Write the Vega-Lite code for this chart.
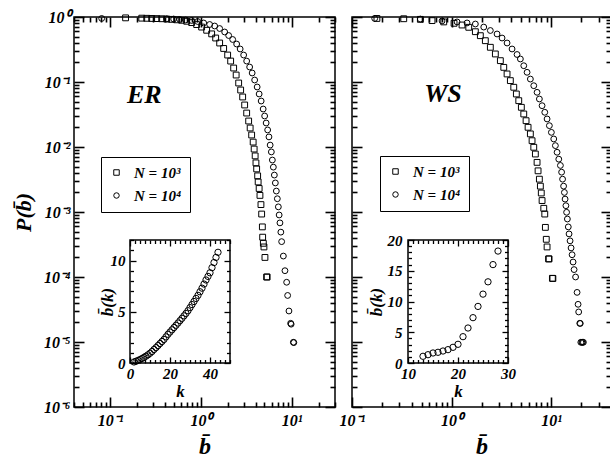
{
"$schema": "https://vega.github.io/schema/vega-lite/v6.json",
"padding": {"left": 11, "top": 8, "right": 0, "bottom": 0},
"background": "white",
"datasets": {
"er": [
{"b":0.148,"P":0.97,"N":"N = 10³"},{"b":0.223,"P":0.96,"N":"N = 10³"},{"b":0.253,"P":0.955,"N":"N = 10³"},{"b":0.287,"P":0.95,"N":"N = 10³"},{"b":0.326,"P":0.945,"N":"N = 10³"},{"b":0.37,"P":0.94,"N":"N = 10³"},{"b":0.42,"P":0.93,"N":"N = 10³"},{"b":0.476,"P":0.92,"N":"N = 10³"},{"b":0.541,"P":0.905,"N":"N = 10³"},{"b":0.614,"P":0.89,"N":"N = 10³"},{"b":0.697,"P":0.86,"N":"N = 10³"},{"b":0.791,"P":0.82,"N":"N = 10³"},{"b":0.898,"P":0.765,"N":"N = 10³"},{"b":1.019,"P":0.7,"N":"N = 10³"},{"b":1.157,"P":0.625,"N":"N = 10³"},{"b":1.314,"P":0.55,"N":"N = 10³"},{"b":1.454,"P":0.475,"N":"N = 10³"},{"b":1.609,"P":0.398,"N":"N = 10³"},{"b":1.781,"P":0.328,"N":"N = 10³"},{"b":1.971,"P":0.26,"N":"N = 10³"},{"b":2.127,"P":0.21,"N":"N = 10³"},{"b":2.295,"P":0.164,"N":"N = 10³"},{"b":2.445,"P":0.128,"N":"N = 10³"},{"b":2.606,"P":0.0965,"N":"N = 10³"},{"b":2.741,"P":0.0753,"N":"N = 10³"},{"b":2.884,"P":0.0588,"N":"N = 10³"},{"b":3.033,"P":0.0443,"N":"N = 10³"},{"b":3.192,"P":0.0333,"N":"N = 10³"},{"b":3.357,"P":0.0251,"N":"N = 10³"},{"b":3.487,"P":0.0196,"N":"N = 10³"},{"b":3.623,"P":0.0153,"N":"N = 10³"},{"b":3.764,"P":0.0119,"N":"N = 10³"},{"b":3.86,"P":0.0093,"N":"N = 10³"},{"b":3.959,"P":0.0073,"N":"N = 10³"},{"b":4.04,"P":0.0057,"N":"N = 10³"},{"b":4.113,"P":0.0046,"N":"N = 10³"},{"b":4.218,"P":0.0036,"N":"N = 10³"},{"b":4.272,"P":0.0029,"N":"N = 10³"},{"b":4.381,"P":0.0023,"N":"N = 10³"},{"b":4.472,"P":0.0018,"N":"N = 10³"},{"b":4.586,"P":0.0013,"N":"N = 10³"},{"b":4.668,"P":0.00093,"N":"N = 10³"},{"b":4.752,"P":0.00059,"N":"N = 10³"},{"b":4.788,"P":0.00041,"N":"N = 10³"},{"b":4.873,"P":0.00033,"N":"N = 10³"},{"b":4.948,"P":0.00029,"N":"N = 10³"},{"b":5.075,"P":0.0002,"N":"N = 10³"},{"b":5.298,"P":0.0001,"N":"N = 10³"},{"b":5.366,"P":0.0001,"N":"N = 10³"},
{"b":0.0807,"P":0.95,"N":"N = 10⁴"},{"b":0.42,"P":0.94,"N":"N = 10⁴"},{"b":0.501,"P":0.93,"N":"N = 10⁴"},{"b":0.584,"P":0.915,"N":"N = 10⁴"},{"b":0.679,"P":0.9,"N":"N = 10⁴"},{"b":0.791,"P":0.884,"N":"N = 10⁴"},{"b":0.921,"P":0.853,"N":"N = 10⁴"},{"b":1.073,"P":0.809,"N":"N = 10⁴"},{"b":1.249,"P":0.767,"N":"N = 10⁴"},{"b":1.418,"P":0.727,"N":"N = 10⁴"},{"b":1.609,"P":0.665,"N":"N = 10⁴"},{"b":1.827,"P":0.588,"N":"N = 10⁴"},{"b":2.022,"P":0.519,"N":"N = 10⁴"},{"b":2.238,"P":0.451,"N":"N = 10⁴"},{"b":2.476,"P":0.384,"N":"N = 10⁴"},{"b":2.706,"P":0.322,"N":"N = 10⁴"},{"b":2.957,"P":0.26,"N":"N = 10⁴"},{"b":3.192,"P":0.21,"N":"N = 10⁴"},{"b":3.443,"P":0.17,"N":"N = 10⁴"},{"b":3.669,"P":0.1376,"N":"N = 10⁴"},{"b":3.909,"P":0.1073,"N":"N = 10⁴"},{"b":4.165,"P":0.0838,"N":"N = 10⁴"},{"b":4.381,"P":0.0654,"N":"N = 10⁴"},{"b":4.61,"P":0.051,"N":"N = 10⁴"},{"b":4.85,"P":0.0384,"N":"N = 10⁴"},{"b":5.037,"P":0.03,"N":"N = 10⁴"},{"b":5.232,"P":0.0234,"N":"N = 10⁴"},{"b":5.436,"P":0.0183,"N":"N = 10⁴"},{"b":5.618,"P":0.0143,"N":"N = 10⁴"},{"b":5.792,"P":0.0107,"N":"N = 10⁴"},{"b":5.97,"P":0.0084,"N":"N = 10⁴"},{"b":6.124,"P":0.0063,"N":"N = 10⁴"},{"b":6.281,"P":0.0049,"N":"N = 10⁴"},{"b":6.442,"P":0.0037,"N":"N = 10⁴"},{"b":6.607,"P":0.0028,"N":"N = 10⁴"},{"b":6.776,"P":0.0021,"N":"N = 10⁴"},{"b":6.95,"P":0.0016,"N":"N = 10⁴"},{"b":7.13,"P":0.0012,"N":"N = 10⁴"},{"b":7.276,"P":0.0009,"N":"N = 10⁴"},{"b":7.425,"P":0.00068,"N":"N = 10⁴"},{"b":7.596,"P":0.00049,"N":"N = 10⁴"},{"b":7.752,"P":0.00035,"N":"N = 10⁴"},{"b":8.095,"P":0.00021,"N":"N = 10⁴"},{"b":8.43,"P":0.000125,"N":"N = 10⁴"},{"b":8.8,"P":0.000083,"N":"N = 10⁴"},{"b":9.026,"P":0.000052,"N":"N = 10⁴"},{"b":9.329,"P":0.00003,"N":"N = 10⁴"},{"b":9.739,"P":0.0000194,"N":"N = 10⁴"},{"b":9.863,"P":0.0000188,"N":"N = 10⁴"},{"b":10.43,"P":0.0000099,"N":"N = 10⁴"},{"b":10.56,"P":0.0000098,"N":"N = 10⁴"}
],
"ws": [
{"b":0.178,"P":0.95,"N":"N = 10³"},{"b":0.331,"P":0.94,"N":"N = 10³"},{"b":0.486,"P":0.92,"N":"N = 10³"},{"b":0.637,"P":0.88,"N":"N = 10³"},{"b":0.835,"P":0.84,"N":"N = 10³"},{"b":1.06,"P":0.8,"N":"N = 10³"},{"b":1.275,"P":0.753,"N":"N = 10³"},{"b":1.489,"P":0.694,"N":"N = 10³"},{"b":1.735,"P":0.594,"N":"N = 10³"},{"b":1.947,"P":0.516,"N":"N = 10³"},{"b":2.186,"P":0.432,"N":"N = 10³"},{"b":2.454,"P":0.342,"N":"N = 10³"},{"b":2.756,"P":0.27,"N":"N = 10³"},{"b":3.094,"P":0.213,"N":"N = 10³"},{"b":3.347,"P":0.168,"N":"N = 10³"},{"b":3.613,"P":0.133,"N":"N = 10³"},{"b":3.899,"P":0.105,"N":"N = 10³"},{"b":4.218,"P":0.083,"N":"N = 10³"},{"b":4.48,"P":0.0654,"N":"N = 10³"},{"b":4.736,"P":0.0516,"N":"N = 10³"},{"b":5.029,"P":0.0408,"N":"N = 10³"},{"b":5.317,"P":0.0322,"N":"N = 10³"},{"b":5.608,"P":0.0254,"N":"N = 10³"},{"b":5.874,"P":0.0201,"N":"N = 10³"},{"b":6.194,"P":0.0159,"N":"N = 10³"},{"b":6.442,"P":0.0125,"N":"N = 10³"},{"b":6.701,"P":0.0099,"N":"N = 10³"},{"b":6.955,"P":0.0078,"N":"N = 10³"},{"b":7.233,"P":0.0058,"N":"N = 10³"},{"b":7.402,"P":0.0043,"N":"N = 10³"},{"b":7.629,"P":0.0032,"N":"N = 10³"},{"b":7.808,"P":0.0025,"N":"N = 10³"},{"b":7.973,"P":0.00196,"N":"N = 10³"},{"b":8.121,"P":0.0015,"N":"N = 10³"},{"b":8.445,"P":0.00114,"N":"N = 10³"},{"b":8.644,"P":0.00093,"N":"N = 10³"},{"b":8.764,"P":0.00058,"N":"N = 10³"},{"b":8.95,"P":0.00038,"N":"N = 10³"},{"b":9.118,"P":0.00029,"N":"N = 10³"},{"b":9.438,"P":0.00019,"N":"N = 10³"},{"b":9.548,"P":0.00019,"N":"N = 10³"},{"b":10.31,"P":0.0000955,"N":"N = 10³"},{"b":10.43,"P":0.000095,"N":"N = 10³"},
{"b":0.169,"P":0.95,"N":"N = 10⁴"},{"b":0.486,"P":0.93,"N":"N = 10⁴"},{"b":0.803,"P":0.87,"N":"N = 10⁴"},{"b":1.136,"P":0.84,"N":"N = 10⁴"},{"b":1.432,"P":0.81,"N":"N = 10⁴"},{"b":1.735,"P":0.78,"N":"N = 10⁴"},{"b":2.107,"P":0.7,"N":"N = 10⁴"},{"b":2.454,"P":0.62,"N":"N = 10⁴"},{"b":2.866,"P":0.548,"N":"N = 10⁴"},{"b":3.218,"P":0.475,"N":"N = 10⁴"},{"b":3.613,"P":0.398,"N":"N = 10⁴"},{"b":4.055,"P":0.322,"N":"N = 10⁴"},{"b":4.552,"P":0.265,"N":"N = 10⁴"},{"b":4.915,"P":0.226,"N":"N = 10⁴"},{"b":5.317,"P":0.178,"N":"N = 10⁴"},{"b":5.74,"P":0.141,"N":"N = 10⁴"},{"b":6.194,"P":0.111,"N":"N = 10⁴"},{"b":6.701,"P":0.0877,"N":"N = 10⁴"},{"b":7.233,"P":0.0694,"N":"N = 10⁴"},{"b":7.629,"P":0.0548,"N":"N = 10⁴"},{"b":8.121,"P":0.0432,"N":"N = 10⁴"},{"b":8.644,"P":0.0342,"N":"N = 10⁴"},{"b":9.118,"P":0.027,"N":"N = 10⁴"},{"b":9.614,"P":0.0213,"N":"N = 10⁴"},{"b":10.07,"P":0.0168,"N":"N = 10⁴"},{"b":10.64,"P":0.0133,"N":"N = 10⁴"},{"b":11.05,"P":0.0105,"N":"N = 10⁴"},{"b":11.49,"P":0.0083,"N":"N = 10⁴"},{"b":11.95,"P":0.0065,"N":"N = 10⁴"},{"b":12.41,"P":0.0052,"N":"N = 10⁴"},{"b":12.76,"P":0.0041,"N":"N = 10⁴"},{"b":13.05,"P":0.0032,"N":"N = 10⁴"},{"b":13.36,"P":0.0025,"N":"N = 10⁴"},{"b":13.61,"P":0.002,"N":"N = 10⁴"},{"b":13.83,"P":0.00158,"N":"N = 10⁴"},{"b":14.09,"P":0.00125,"N":"N = 10⁴"},{"b":14.32,"P":0.00099,"N":"N = 10⁴"},{"b":14.58,"P":0.00078,"N":"N = 10⁴"},{"b":14.89,"P":0.00059,"N":"N = 10⁴"},{"b":15.16,"P":0.00046,"N":"N = 10⁴"},{"b":15.52,"P":0.00036,"N":"N = 10⁴"},{"b":15.89,"P":0.00028,"N":"N = 10⁴"},{"b":16.26,"P":0.00022,"N":"N = 10⁴"},{"b":16.64,"P":0.00017,"N":"N = 10⁴"},{"b":17.03,"P":0.00013,"N":"N = 10⁴"},{"b":17.63,"P":0.0001,"N":"N = 10⁴"},{"b":18.25,"P":0.000058,"N":"N = 10⁴"},{"b":18.68,"P":0.000038,"N":"N = 10⁴"},{"b":18.94,"P":0.000029,"N":"N = 10⁴"},{"b":19.43,"P":0.0000194,"N":"N = 10⁴"},{"b":19.66,"P":0.0000193,"N":"N = 10⁴"},{"b":19.9,"P":0.0000099,"N":"N = 10⁴"},{"b":20.4,"P":0.0000099,"N":"N = 10⁴"},{"b":20.73,"P":0.0000099,"N":"N = 10⁴"},{"b":21.12,"P":0.0000099,"N":"N = 10⁴"}
],
"erIn": [
{"k":2,"v":0.1},{"k":3,"v":0.17},{"k":4,"v":0.25},{"k":5,"v":0.34},{"k":6,"v":0.44},{"k":7,"v":0.55},{"k":8,"v":0.67},{"k":9,"v":0.8},{"k":10,"v":0.95},{"k":11,"v":1.12},{"k":12,"v":1.32},{"k":13,"v":1.5},{"k":14,"v":1.7},{"k":15,"v":1.9},{"k":16,"v":2.1},{"k":17,"v":2.3},{"k":18,"v":2.55},{"k":19,"v":2.8},{"k":20,"v":3.02},{"k":21,"v":3.24},{"k":22,"v":3.46},{"k":23,"v":3.68},{"k":24,"v":3.9},{"k":25,"v":4.13},{"k":26,"v":4.36},{"k":27,"v":4.6},{"k":28,"v":4.84},{"k":29,"v":5.1},{"k":30,"v":5.4},{"k":31,"v":5.7},{"k":32,"v":6.0},{"k":33,"v":6.3},{"k":34,"v":6.6},{"k":35,"v":6.95},{"k":36,"v":7.3},{"k":37,"v":7.7},{"k":38,"v":8.1},{"k":39,"v":8.45},{"k":40,"v":8.8},{"k":41,"v":9.3},{"k":42,"v":9.8},{"k":43,"v":10.3},{"k":44,"v":10.8}
],
"wsIn": [
{"k":13,"v":1.09},{"k":14,"v":1.35},{"k":15,"v":1.63},{"k":16,"v":1.74},{"k":17,"v":1.95},{"k":18,"v":2.17},{"k":19,"v":2.55},{"k":20,"v":3.04},{"k":21,"v":4.28},{"k":22,"v":5.69},{"k":23,"v":7.37},{"k":24,"v":9.2},{"k":25,"v":11.2},{"k":26,"v":13.2},{"k":27,"v":16.0},{"k":28,"v":18.2}
]
},
"hconcat": [
{
"width": 261, "height": 390,
"layer": [
{
"layer": [
{
"data": {"name": "er"},
"mark": {"type": "point", "filled": false, "color": "black", "strokeWidth": 1, "size": 34, "opacity": 1},
"encoding": {
"x": {"field": "b", "type": "quantitative", "scale": {"type": "log", "domain": [0.04, 30]},
"axis": {"orient": "bottom", "zindex": 2, "domain": false, "ticks": true, "tickColor": "black", "tickWidth": 1.6, "values": [0.04,0.05,0.06,0.07,0.08,0.09,0.1,0.2,0.3,0.4,0.5,0.6,0.7,0.8,0.9,1,2,3,4,5,6,7,8,9,10,20,30],
"tickSize": {"condition": {"test": "datum.value == 0.1 || datum.value == 1 || datum.value == 10", "value": -10}, "value": -5},
"labelExpr": "datum.value == 0.1 ? '10⁻¹' : datum.value == 1 ? '10⁰' : datum.value == 10 ? '10¹' : ''",
"labelPadding": 15, "labelFlush": false, "labelOverlap": false, "title": "b̄", "titleFontSize": 24, "titlePadding": 1}},
"y": {"field": "P", "type": "quantitative", "scale": {"type": "log", "domain": [0.000001, 1]},
"axis": {"orient": "left", "zindex": 2, "domain": false, "ticks": true, "tickColor": "black", "tickWidth": 1.6, "values": [0.000001,0.000002,0.000003,0.000004,0.000005,0.000006,0.000007,0.000008,0.000009,0.00001,0.00002,0.00003,0.00004,0.00005,0.00006,0.00007,0.00008,0.00009,0.0001,0.0002,0.0003,0.0004,0.0005,0.0006,0.0007,0.0008,0.0009,0.001,0.002,0.003,0.004,0.005,0.006,0.007,0.008,0.009,0.01,0.02,0.03,0.04,0.05,0.06,0.07,0.08,0.09,0.1,0.2,0.3,0.4,0.5,0.6,0.7,0.8,0.9,1],
"tickSize": {"condition": {"test": "abs(log(datum.value)/LN10 - round(log(datum.value)/LN10)) < 0.001", "value": -10}, "value": -5},
"labelExpr": "abs(log(datum.value)/LN10 - round(log(datum.value)/LN10)) < 0.001 ? ['10⁻⁶','10⁻⁵','10⁻⁴','10⁻³','10⁻²','10⁻¹','10⁰'][round(log(datum.value)/LN10)+6] : ''",
"labelPadding": 14, "labelFlush": false, "labelOverlap": false, "title": "P(b̄)", "titleFontSize": 22, "titlePadding": 8}},
"shape": {"field": "N", "type": "nominal", "scale": {"domain": ["N = 10³", "N = 10⁴"], "range": ["square", "circle"]},
"legend": {"orient": "none", "legendX": 27, "legendY": 140, "title": null, "strokeColor": "black", "fillColor": "white", "padding": 8, "rowPadding": 7, "labelOffset": 10, "symbolSize": 30, "symbolStrokeColor": "black", "symbolFillColor": "transparent", "symbolStrokeWidth": 1, "labelFont": "Liberation Serif", "labelFontSize": 15, "labelFontStyle": "italic", "labelFontWeight": "bold", "labelColor": "black"}}
}
},
{
"data": {"values": [{"b": 0.238, "P": 0.063, "t": "ER"}]},
"mark": {"type": "text", "font": "Liberation Serif", "fontSize": 26, "fontStyle": "italic", "fontWeight": "bold", "color": "black", "baseline": "middle", "align": "center"},
"encoding": {
"x": {"field": "b", "type": "quantitative", "scale": {"type": "log", "domain": [0.04, 30]},
"axis": {"orient": "top", "zindex": 2, "domain": false, "ticks": true, "tickColor": "black", "tickWidth": 1.6, "labels": false, "title": null, "values": [0.04,0.05,0.06,0.07,0.08,0.09,0.1,0.2,0.3,0.4,0.5,0.6,0.7,0.8,0.9,1,2,3,4,5,6,7,8,9,10,20,30],
"tickSize": {"condition": {"test": "datum.value == 0.1 || datum.value == 1 || datum.value == 10", "value": -10}, "value": -5}}},
"y": {"field": "P", "type": "quantitative", "scale": {"type": "log", "domain": [0.000001, 1]},
"axis": {"orient": "right", "zindex": 2, "domain": false, "ticks": true, "tickColor": "black", "tickWidth": 1.6, "labels": false, "title": null, "values": [0.000001,0.000002,0.000003,0.000004,0.000005,0.000006,0.000007,0.000008,0.000009,0.00001,0.00002,0.00003,0.00004,0.00005,0.00006,0.00007,0.00008,0.00009,0.0001,0.0002,0.0003,0.0004,0.0005,0.0006,0.0007,0.0008,0.0009,0.001,0.002,0.003,0.004,0.005,0.006,0.007,0.008,0.009,0.01,0.02,0.03,0.04,0.05,0.06,0.07,0.08,0.09,0.1,0.2,0.3,0.4,0.5,0.6,0.7,0.8,0.9,1],
"tickSize": {"condition": {"test": "abs(log(datum.value)/LN10 - round(log(datum.value)/LN10)) < 0.001", "value": -10}, "value": -5}}},
"text": {"field": "t"}
}
}
],
"resolve": {"axis": {"x": "independent", "y": "independent"}}
},
{
"layer": [
{
"data": {"values": [{"k0": 0, "k1": 50, "v0": 0, "v1": 12}]},
"mark": {"type": "rect", "filled": false, "stroke": "black", "strokeWidth": 1.5},
"encoding": {
"x": {"field": "k0", "type": "quantitative", "scale": {"domain": [0, 50], "range": [56, 156]},
"axis": {"orient": "top", "offset": -223, "zindex": 2, "domain": false, "ticks": true, "tickColor": "black", "tickWidth": 1.3, "labels": false, "title": null, "values": [0,2.5,5,7.5,10,12.5,15,17.5,20,22.5,25,27.5,30,32.5,35,37.5,40,42.5,45,47.5,50],
"tickSize": {"condition": {"test": "datum.value % 20 == 0", "value": -6}, "value": -3.5}}},
"x2": {"field": "k1"},
"y": {"field": "v0", "type": "quantitative", "scale": {"domain": [0, 12], "range": [346, 223]},
"axis": {"orient": "right", "offset": -105, "zindex": 2, "domain": false, "ticks": true, "tickColor": "black", "tickWidth": 1.3, "labels": false, "title": null, "values": [0,1,2,3,4,5,6,7,8,9,10,11,12],
"tickSize": {"condition": {"test": "datum.value % 5 == 0", "value": -6}, "value": -3.5}}},
"y2": {"field": "v1"}
}
},
{
"data": {"name": "erIn"},
"mark": {"type": "point", "shape": "circle", "filled": false, "color": "black", "strokeWidth": 1, "size": 40, "opacity": 1},
"encoding": {
"x": {"field": "k", "type": "quantitative", "scale": {"domain": [0, 50], "range": [56, 156]},
"axis": {"orient": "bottom", "offset": -44, "zindex": 2, "domain": false, "ticks": true, "tickColor": "black", "tickWidth": 1.3, "values": [0,2.5,5,7.5,10,12.5,15,17.5,20,22.5,25,27.5,30,32.5,35,37.5,40,42.5,45,47.5,50],
"tickSize": {"condition": {"test": "datum.value % 20 == 0", "value": -6}, "value": -3.5},
"labelExpr": "datum.value % 20 == 0 ? datum.label : ''", "labelPadding": 9, "labelFlush": false, "labelOverlap": false, "labelFontSize": 15, "title": "k", "titleFontSize": 17, "titlePadding": 0}},
"y": {"field": "v", "type": "quantitative", "scale": {"domain": [0, 12], "range": [346, 223]},
"axis": {"orient": "left", "offset": -56, "zindex": 2, "domain": false, "ticks": true, "tickColor": "black", "tickWidth": 1.3, "values": [0,1,2,3,4,5,6,7,8,9,10,11,12],
"tickSize": {"condition": {"test": "datum.value % 5 == 0", "value": -6}, "value": -3.5},
"labelExpr": "datum.value % 5 == 0 ? datum.label : ''", "labelPadding": 11, "labelFlush": false, "labelOverlap": false, "labelFontSize": 15, "title": "b̄(k)", "titleFontSize": 17, "titlePadding": -6}}
}
}
],
"resolve": {"axis": {"x": "independent", "y": "independent"}}
}
],
"resolve": {"scale": {"x": "independent", "y": "independent"}}
},
{
"width": 259, "height": 390,
"layer": [
{
"layer": [
{
"data": {"name": "ws"},
"mark": {"type": "point", "filled": false, "color": "black", "strokeWidth": 1, "size": 34, "opacity": 1},
"encoding": {
"x": {"field": "b", "type": "quantitative", "scale": {"type": "log", "domain": [0.1, 40]},
"axis": {"orient": "bottom", "zindex": 2, "domain": false, "ticks": true, "tickColor": "black", "tickWidth": 1.6, "values": [0.1,0.2,0.3,0.4,0.5,0.6,0.7,0.8,0.9,1,2,3,4,5,6,7,8,9,10,20,30,40],
"tickSize": {"condition": {"test": "datum.value == 0.1 || datum.value == 1 || datum.value == 10", "value": -10}, "value": -5},
"labelExpr": "datum.value == 0.1 ? '10⁻¹' : datum.value == 1 ? '10⁰' : datum.value == 10 ? '10¹' : ''",
"labelPadding": 15, "labelFlush": false, "labelOverlap": false, "title": "b̄", "titleFontSize": 24, "titlePadding": 1}},
"y": {"field": "P", "type": "quantitative", "scale": {"type": "log", "domain": [0.000001, 1]},
"axis": {"orient": "left", "zindex": 2, "domain": false, "ticks": true, "tickColor": "black", "tickWidth": 1.6, "labels": false, "title": null, "values": [0.000001,0.000002,0.000003,0.000004,0.000005,0.000006,0.000007,0.000008,0.000009,0.00001,0.00002,0.00003,0.00004,0.00005,0.00006,0.00007,0.00008,0.00009,0.0001,0.0002,0.0003,0.0004,0.0005,0.0006,0.0007,0.0008,0.0009,0.001,0.002,0.003,0.004,0.005,0.006,0.007,0.008,0.009,0.01,0.02,0.03,0.04,0.05,0.06,0.07,0.08,0.09,0.1,0.2,0.3,0.4,0.5,0.6,0.7,0.8,0.9,1],
"tickSize": {"condition": {"test": "abs(log(datum.value)/LN10 - round(log(datum.value)/LN10)) < 0.001", "value": -10}, "value": -5}}},
"shape": {"field": "N", "type": "nominal", "scale": {"domain": ["N = 10³", "N = 10⁴"], "range": ["square", "circle"]},
"legend": {"orient": "none", "legendX": 28, "legendY": 139, "title": null, "strokeColor": "black", "fillColor": "white", "padding": 8, "rowPadding": 7, "labelOffset": 10, "symbolSize": 30, "symbolStrokeColor": "black", "symbolFillColor": "transparent", "symbolStrokeWidth": 1, "labelFont": "Liberation Serif", "labelFontSize": 15, "labelFontStyle": "italic", "labelFontWeight": "bold", "labelColor": "black"}}
}
},
{
"data": {"values": [{"b": 0.82, "P": 0.0654, "t": "WS"}]},
"mark": {"type": "text", "font": "Liberation Serif", "fontSize": 26, "fontStyle": "italic", "fontWeight": "bold", "color": "black", "baseline": "middle", "align": "center"},
"encoding": {
"x": {"field": "b", "type": "quantitative", "scale": {"type": "log", "domain": [0.1, 40]},
"axis": {"orient": "top", "zindex": 2, "domain": false, "ticks": true, "tickColor": "black", "tickWidth": 1.6, "labels": false, "title": null, "values": [0.1,0.2,0.3,0.4,0.5,0.6,0.7,0.8,0.9,1,2,3,4,5,6,7,8,9,10,20,30,40],
"tickSize": {"condition": {"test": "datum.value == 0.1 || datum.value == 1 || datum.value == 10", "value": -10}, "value": -5}}},
"y": {"field": "P", "type": "quantitative", "scale": {"type": "log", "domain": [0.000001, 1]},
"axis": {"orient": "right", "zindex": 2, "domain": false, "ticks": true, "tickColor": "black", "tickWidth": 1.6, "labels": false, "title": null, "values": [0.000001,0.000002,0.000003,0.000004,0.000005,0.000006,0.000007,0.000008,0.000009,0.00001,0.00002,0.00003,0.00004,0.00005,0.00006,0.00007,0.00008,0.00009,0.0001,0.0002,0.0003,0.0004,0.0005,0.0006,0.0007,0.0008,0.0009,0.001,0.002,0.003,0.004,0.005,0.006,0.007,0.008,0.009,0.01,0.02,0.03,0.04,0.05,0.06,0.07,0.08,0.09,0.1,0.2,0.3,0.4,0.5,0.6,0.7,0.8,0.9,1],
"tickSize": {"condition": {"test": "abs(log(datum.value)/LN10 - round(log(datum.value)/LN10)) < 0.001", "value": -10}, "value": -5}}},
"text": {"field": "t"}
}
}
],
"resolve": {"axis": {"x": "independent", "y": "independent"}}
},
{
"layer": [
{
"data": {"values": [{"k0": 10, "k1": 30, "v0": 0, "v1": 20}]},
"mark": {"type": "rect", "filled": false, "stroke": "black", "strokeWidth": 1.5},
"encoding": {
"x": {"field": "k0", "type": "quantitative", "scale": {"domain": [10, 30], "range": [56, 156]},
"axis": {"orient": "top", "offset": -223, "zindex": 2, "domain": false, "ticks": true, "tickColor": "black", "tickWidth": 1.3, "labels": false, "title": null, "values": [10,11,12,13,14,15,16,17,18,19,20,21,22,23,24,25,26,27,28,29,30],
"tickSize": {"condition": {"test": "datum.value % 10 == 0", "value": -6}, "value": -3.5}}},
"x2": {"field": "k1"},
"y": {"field": "v0", "type": "quantitative", "scale": {"domain": [0, 20], "range": [346, 223]},
"axis": {"orient": "right", "offset": -103, "zindex": 2, "domain": false, "ticks": true, "tickColor": "black", "tickWidth": 1.3, "labels": false, "title": null, "values": [0,1,2,3,4,5,6,7,8,9,10,11,12,13,14,15,16,17,18,19,20],
"tickSize": {"condition": {"test": "datum.value % 5 == 0", "value": -6}, "value": -3.5}}},
"y2": {"field": "v1"}
}
},
{
"data": {"name": "wsIn"},
"mark": {"type": "point", "shape": "circle", "filled": false, "color": "black", "strokeWidth": 1, "size": 40, "opacity": 1},
"encoding": {
"x": {"field": "k", "type": "quantitative", "scale": {"domain": [10, 30], "range": [56, 156]},
"axis": {"orient": "bottom", "offset": -44, "zindex": 2, "domain": false, "ticks": true, "tickColor": "black", "tickWidth": 1.3, "values": [10,11,12,13,14,15,16,17,18,19,20,21,22,23,24,25,26,27,28,29,30],
"tickSize": {"condition": {"test": "datum.value % 10 == 0", "value": -6}, "value": -3.5},
"labelExpr": "datum.value % 10 == 0 ? datum.label : ''", "labelPadding": 9, "labelFlush": false, "labelOverlap": false, "labelFontSize": 15, "title": "k", "titleFontSize": 17, "titlePadding": 0}},
"y": {"field": "v", "type": "quantitative", "scale": {"domain": [0, 20], "range": [346, 223]},
"axis": {"orient": "left", "offset": -56, "zindex": 2, "domain": false, "ticks": true, "tickColor": "black", "tickWidth": 1.3, "values": [0,1,2,3,4,5,6,7,8,9,10,11,12,13,14,15,16,17,18,19,20],
"tickSize": {"condition": {"test": "datum.value % 5 == 0", "value": -6}, "value": -3.5},
"labelExpr": "datum.value % 5 == 0 ? datum.label : ''", "labelPadding": 12, "labelFlush": false, "labelOverlap": false, "labelFontSize": 15, "title": "b̄(k)", "titleFontSize": 17, "titlePadding": 2}}
}
}
],
"resolve": {"axis": {"x": "independent", "y": "independent"}}
}
],
"resolve": {"scale": {"x": "independent", "y": "independent"}}
}
],
"spacing": 17,
"bounds": "flush",
"resolve": {"scale": {"shape": "independent"}, "legend": {"shape": "independent"}},
"config": {
"view": {"stroke": "black", "strokeWidth": 1.5},
"axis": {"labelFont": "Liberation Serif", "labelFontSize": 16, "labelFontStyle": "italic", "labelFontWeight": "bold", "labelColor": "black", "titleFont": "Liberation Serif", "titleFontStyle": "italic", "titleFontWeight": "bold", "titleColor": "black", "tickColor": "black", "tickWidth": 1.6, "tickOpacity": 1, "domainColor": "black", "grid": false}
}
}
